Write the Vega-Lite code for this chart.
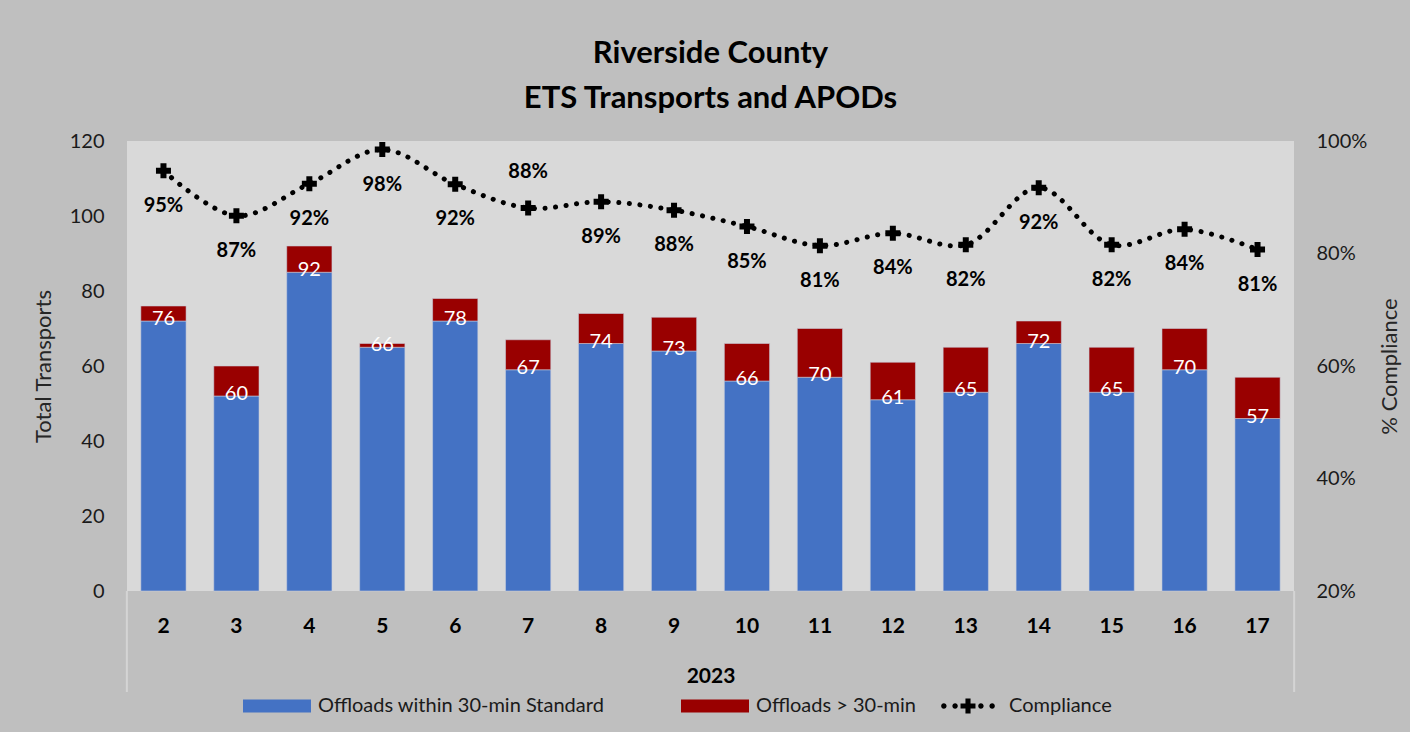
{
  "$schema": "https://vega.github.io/schema/vega-lite/v6.json",
  "width": 1167,
  "height": 450,
  "autosize": {"type": "none"},
  "padding": {"left": 127, "top": 141, "right": 116, "bottom": 141},
  "background": "#bfbfbf",
  "config": {
    "view": {"fill": "#d9d9d9", "stroke": null},
    "font": "Lato",
    "axis": {"labelFont": "Lato", "titleFont": "Lato", "labelColor": "#1a1a1a", "titleColor": "#262626", "grid": false, "domain": false, "ticks": false},
    "legend": {"labelFont": "Lato", "labelFontSize": 20, "labelColor": "#1a1a1a", "labelOffset": 7, "labelLimit": 0, "padding": 0}
  },
  "title": {
    "text": ["Riverside County", "ETS Transports  and APODs"],
    "fontSize": 31,
    "fontWeight": "bold",
    "color": "#000000",
    "lineHeight": 45,
    "anchor": "middle",
    "frame": "group",
    "offset": 16
  },
  "data": {
    "values": [
      {"week": 2, "within": 72, "over": 4, "total": 76, "compliance": 0.947},
      {"week": 3, "within": 52, "over": 8, "total": 60, "compliance": 0.867},
      {"week": 4, "within": 85, "over": 7, "total": 92, "compliance": 0.924},
      {"week": 5, "within": 65, "over": 1, "total": 66, "compliance": 0.9848},
      {"week": 6, "within": 72, "over": 6, "total": 78, "compliance": 0.923},
      {"week": 7, "within": 59, "over": 8, "total": 67, "compliance": 0.881},
      {"week": 8, "within": 66, "over": 8, "total": 74, "compliance": 0.892},
      {"week": 9, "within": 64, "over": 9, "total": 73, "compliance": 0.877},
      {"week": 10, "within": 56, "over": 10, "total": 66, "compliance": 0.848},
      {"week": 11, "within": 57, "over": 13, "total": 70, "compliance": 0.814},
      {"week": 12, "within": 51, "over": 10, "total": 61, "compliance": 0.836},
      {"week": 13, "within": 53, "over": 12, "total": 65, "compliance": 0.8154},
      {"week": 14, "within": 66, "over": 6, "total": 72, "compliance": 0.917},
      {"week": 15, "within": 53, "over": 12, "total": 65, "compliance": 0.8154},
      {"week": 16, "within": 59, "over": 11, "total": 70, "compliance": 0.843},
      {"week": 17, "within": 46, "over": 11, "total": 57, "compliance": 0.807}
    ]
  },
  "encoding": {
    "x": {
      "field": "week",
      "type": "ordinal",
      "scale": {"paddingInner": 0.38, "paddingOuter": 0.19},
      "axis": {
        "title": "2023",
        "titleFontSize": 21,
        "titleFontWeight": "bold",
        "titleColor": "#000000",
        "titleY": 85,
        "titleBaseline": "middle",
        "labelAngle": 0,
        "labelFontSize": 21,
        "labelFontWeight": "bold",
        "labelColor": "#000000",
        "labelBaseline": "middle",
        "labelPadding": 35
      }
    }
  },
  "layer": [
    {
      "layer": [
        {
          "transform": [{"fold": ["within", "over"], "as": ["key", "value"]}],
          "mark": {"type": "bar", "stroke": "#c9cfdc", "strokeWidth": 0.8, "strokeOpacity": 0.7},
          "encoding": {
            "y": {
              "field": "value",
              "type": "quantitative",
              "stack": "zero",
              "title": "Total  Transports",
              "scale": {"domain": [0, 120]},
              "axis": {
                "values": [0, 20, 40, 60, 80, 100, 120],
                "labelFontSize": 20,
                "labelPadding": 23,
                "titleFontSize": 22,
                "titleFontWeight": "normal",
                "titlePadding": 14
              }
            },
            "color": {
              "field": "key",
              "type": "nominal",
              "scale": {"domain": ["within", "over"], "range": ["#4472c4", "#990000"]},
              "legend": {
                "title": null,
                "orient": "none",
                "direction": "horizontal",
                "columns": 2,
                "legendX": 116,
                "legendY": 531,
                "symbolType": "M-1,-0.19H1V0.19H-1Z",
                "symbolSize": 4624,
                "symbolStrokeWidth": 0,
                "symbolOpacity": 1,
                "columnPadding": 76,
                "labelExpr": "datum.value === 'within' ? 'Offloads within 30-min Standard' : 'Offloads > 30-min'"
              }
            },
            "order": {"field": "key", "sort": "descending"}
          }
        },
        {
          "mark": {"type": "text", "color": "#ffffff", "fontSize": 20, "font": "Lato", "baseline": "middle", "dy": -2},
          "encoding": {
            "y": {"field": "within", "type": "quantitative", "title": "Total  Transports", "scale": {"domain": [0, 120]}},
            "text": {"field": "total", "type": "quantitative"}
          }
        },
        {
          "transform": [{"filter": "datum.week === 2"}],
          "mark": {"type": "rule", "color": "#d4d4d4", "strokeWidth": 2, "xOffset": -14, "y2Offset": 101},
          "encoding": {
            "x": {"field": "week", "type": "ordinal", "bandPosition": 0},
            "y": {"datum": 0, "type": "quantitative"},
            "y2": {"datum": 0}
          }
        },
        {
          "transform": [{"filter": "datum.week === 17"}],
          "mark": {"type": "rule", "color": "#d4d4d4", "strokeWidth": 2, "xOffset": 14, "y2Offset": 101},
          "encoding": {
            "x": {"field": "week", "type": "ordinal", "bandPosition": 1},
            "y": {"datum": 0, "type": "quantitative"},
            "y2": {"datum": 0}
          }
        }
      ]
    },
    {
      "layer": [
        {
          "mark": {"type": "line", "interpolate": "catmull-rom", "color": "#000000", "strokeWidth": 5, "strokeDash": [0.1, 10.5], "strokeCap": "round"},
          "encoding": {
            "y": {
              "field": "compliance",
              "type": "quantitative",
              "title": "% Compliance",
              "scale": {"domain": [0.2, 1.0]},
              "axis": {
                "orient": "right",
                "values": [0.2, 0.4, 0.6, 0.8, 1.0],
                "format": ".0%",
                "labelFontSize": 20,
                "labelPadding": 22,
                "titleFontSize": 22,
                "titleFontWeight": "normal",
                "titleAngle": 270,
                "titlePadding": 35
              }
            }
          }
        },
        {
          "mark": {"type": "point", "shape": "cross", "filled": true, "size": 225, "color": "#000000", "opacity": 1},
          "encoding": {
            "y": {"field": "compliance", "type": "quantitative", "title": "% Compliance", "scale": {"domain": [0.2, 1.0]}}
          }
        },
        {
          "mark": {"type": "point", "filled": true, "color": "#000000", "opacity": 0},
          "encoding": {
            "y": {"field": "compliance", "type": "quantitative", "title": "% Compliance", "scale": {"domain": [0.2, 1.0]}},
            "shape": {
              "datum": "Compliance",
              "type": "nominal",
              "scale": {"range": ["M-0.79,0a0.08,0.08 0 1,0 0.16,0a0.08,0.08 0 1,0 -0.16,0ZM-0.46,0a0.08,0.08 0 1,0 0.16,0a0.08,0.08 0 1,0 -0.16,0ZM0.30,0a0.08,0.08 0 1,0 0.16,0a0.08,0.08 0 1,0 -0.16,0ZM0.63,0a0.08,0.08 0 1,0 0.16,0a0.08,0.08 0 1,0 -0.16,0ZM-0.22,-0.075H-0.075V-0.22H0.075V-0.075H0.22V0.075H0.075V0.22H-0.075V0.075H-0.22Z"]},
              "legend": {
                "title": null,
                "orient": "none",
                "legendX": 807,
                "legendY": 531,
                "symbolSize": 4624,
                "symbolOpacity": 1,
                "symbolFillColor": "#000000",
                "symbolStrokeWidth": 0
              }
            }
          }
        },
        {
          "transform": [{"filter": "datum.week !== 7"}],
          "mark": {"type": "text", "fontSize": 20, "fontWeight": "bold", "font": "Lato", "color": "#000000", "baseline": "middle", "dy": 35},
          "encoding": {
            "y": {"field": "compliance", "type": "quantitative", "title": "% Compliance", "scale": {"domain": [0.2, 1.0]}},
            "text": {"field": "compliance", "type": "quantitative", "format": ".0%"}
          }
        },
        {
          "transform": [{"filter": "datum.week === 7"}],
          "mark": {"type": "text", "fontSize": 20, "fontWeight": "bold", "font": "Lato", "color": "#000000", "baseline": "middle", "dy": -36},
          "encoding": {
            "y": {"field": "compliance", "type": "quantitative", "title": "% Compliance", "scale": {"domain": [0.2, 1.0]}},
            "text": {"field": "compliance", "type": "quantitative", "format": ".0%"}
          }
        }
      ]
    }
  ],
  "resolve": {"scale": {"y": "independent"}}
}
